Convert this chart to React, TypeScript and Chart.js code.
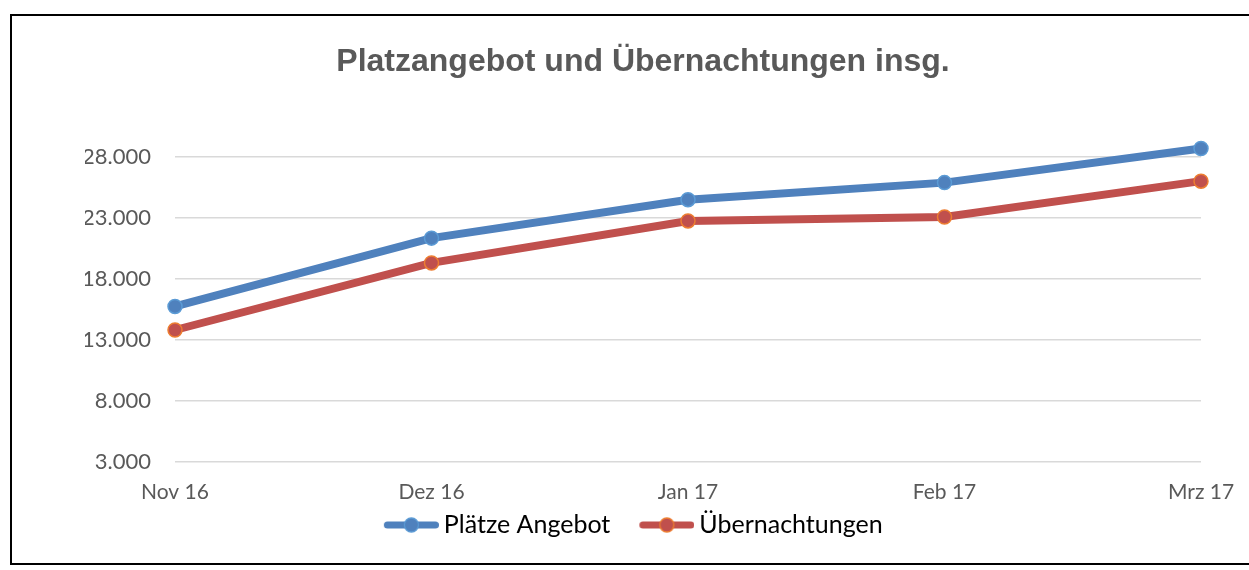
import React, { useEffect, useRef } from "react";
import { Chart, registerables } from "chart.js";

Chart.register(...registerables);

const categories = ["Nov 16", "Dez 16", "Jan 17", "Feb 17", "Mrz 17"];
const plaetzeAngebot = [15750, 21350, 24500, 25900, 28700];
const uebernachtungen = [13820, 19320, 22760, 23080, 26020];
const yTicks = [3000, 8000, 13000, 18000, 23000, 28000];
const seriesNames = ["Plätze Angebot", "Übernachtungen"];
const titleText = "Platzangebot und Übernachtungen insg.";

const BLUE = "#4F81BD";
const BLUE_EDGE = "#5B9BD5";
const RED = "#C0504D";
const RED_EDGE = "#ED7D31";

function fmt(v: number): string {
  return String(Math.round(v)).replace(/\B(?=(\d{3})+(?!\d))/g, ".");
}

// Legend symbol: line with a marker, right-aligned in a wider transparent image
function legendImage(line: string, fill: string, edge: string): HTMLCanvasElement {
  const c = document.createElement("canvas");
  const W = 81;
  const H = 18;
  const L = 55;
  const x0 = W - L;
  c.width = W;
  c.height = H;
  const ctx = c.getContext("2d")!;
  ctx.strokeStyle = line;
  ctx.lineWidth = 7;
  ctx.lineCap = "round";
  ctx.beginPath();
  ctx.moveTo(x0 + 3.5, H / 2);
  ctx.lineTo(W - 3.5, H / 2);
  ctx.stroke();
  ctx.beginPath();
  ctx.arc(x0 + L / 2, H / 2, 7, 0, Math.PI * 2);
  ctx.fillStyle = fill;
  ctx.fill();
  ctx.lineWidth = 1.3;
  ctx.strokeStyle = edge;
  ctx.stroke();
  return c;
}

const legendShift = {
  id: "legendShift",
  afterLayout(chart: any) {
    const l = chart.legend;
    if (l) {
      l.left -= 19;
      l.right -= 19;
    }
  },
};

export default function App() {
  const ref = useRef<HTMLCanvasElement | null>(null);

  useEffect(() => {
    if (!ref.current) return;
    const imgs = [legendImage(BLUE, BLUE, BLUE_EDGE), legendImage(RED, RED, RED_EDGE)];
    const chart = new Chart(ref.current, {
      type: "line",
      data: {
        labels: categories,
        datasets: [
          {
            label: seriesNames[0],
            data: plaetzeAngebot,
            borderColor: BLUE,
            backgroundColor: BLUE,
            borderWidth: 8,
            pointRadius: 7,
            pointBackgroundColor: BLUE,
            pointBorderColor: BLUE_EDGE,
            pointBorderWidth: 1.5,
            tension: 0,
            fill: false,
          },
          {
            label: seriesNames[1],
            data: uebernachtungen,
            borderColor: RED,
            backgroundColor: RED,
            borderWidth: 8,
            pointRadius: 7,
            pointBackgroundColor: RED,
            pointBorderColor: RED_EDGE,
            pointBorderWidth: 1.5,
            tension: 0,
            fill: false,
          },
        ],
      },
      plugins: [legendShift],
      options: {
        animation: false,
        responsive: false,
        layout: { padding: { left: 73, right: 73, top: 0, bottom: 15.5 } },
        plugins: {
          title: {
            display: true,
            text: titleText,
            color: "#595959",
            font: { family: "'Liberation Sans', Arial, sans-serif", size: 32, weight: "bold", lineHeight: 1.2 },
            padding: { top: 26.6, bottom: 51.6 },
          },
          legend: {
            display: true,
            position: "bottom",
            labels: {
              color: "#000000",
              font: { family: "Lato, sans-serif", size: 25 },
              usePointStyle: true,
              pointStyleWidth: 66,
              padding: 10.5,
              generateLabels: (ch: any) => {
                const base = Chart.defaults.plugins.legend.labels.generateLabels(ch);
                return base.map((l: any, i: number) => ({ ...l, pointStyle: imgs[i] }));
              },
            },
          },
          tooltip: { enabled: false },
        },
        scales: {
          x: {
            type: "category",
            offset: false,
            grid: { display: false, drawTicks: false },
            border: { display: false },
            afterFit: (scale: any) => {
              scale.height = 40;
            },
            ticks: {
              color: "#595959",
              font: { family: "Lato, sans-serif", size: 21 },
              padding: 18,
              maxRotation: 0,
              autoSkip: false,
            },
          },
          y: {
            min: 3000,
            max: 30000,
            grid: { color: "#D9D9D9", lineWidth: 1.5, drawTicks: false },
            border: { display: false },
            afterBuildTicks: (scale: any) => {
              scale.ticks = yTicks.map((v) => ({ value: v }));
            },
            afterFit: (scale: any) => {
              scale.width = 90;
            },
            ticks: {
              color: "#595959",
              font: { family: "Lato, sans-serif", size: 22 },
              padding: 24,
              callback: (v: any) => fmt(Number(v)),
            },
          },
        },
      },
    });
    return () => chart.destroy();
  }, []);

  return (
    <div
      style={{
        position: "absolute",
        left: 0,
        top: 0,
        width: 1249,
        height: 570,
        overflow: "hidden",
        background: "#ffffff",
      }}
    >
      <div
        style={{
          position: "absolute",
          left: 10,
          top: 14,
          width: 1262,
          height: 547,
          border: "2px solid #000000",
          background: "#ffffff",
        }}
      >
        <canvas ref={ref} width={1262} height={547} style={{ display: "block" }} />
      </div>
    </div>
  );
}
